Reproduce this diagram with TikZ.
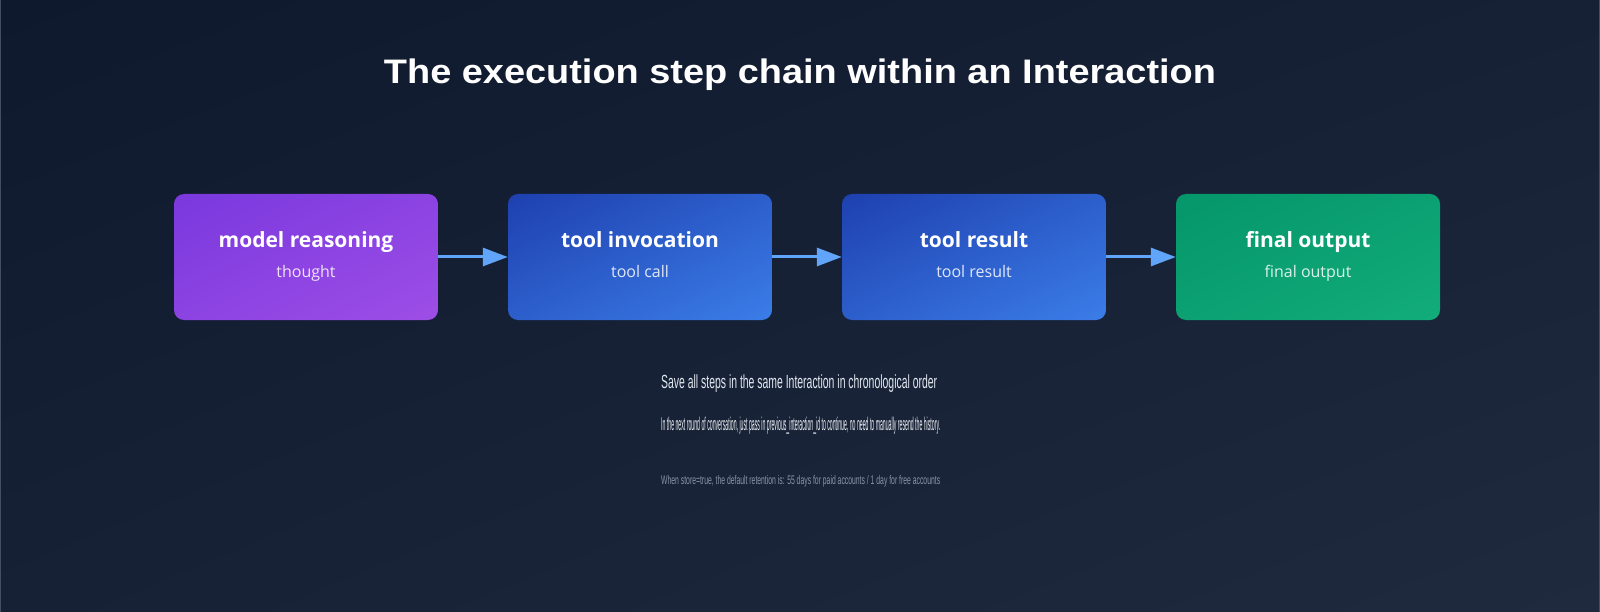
\documentclass[tikz,border=0pt]{standalone}
\usepackage{fontspec}
\setmainfont{Liberation Sans}
\newfontfamily\notosans{Open Sans}
\usetikzlibrary{arrows.meta,shadings}
\definecolor{bgUL}{HTML}{0F192E}
\definecolor{bgLR}{HTML}{1F2A3E}
\definecolor{bgM}{HTML}{172136}
\definecolor{purA}{HTML}{7A38DE}
\definecolor{purB}{HTML}{9D4EE6}
\definecolor{bluA}{HTML}{1E40AF}
\definecolor{bluB}{HTML}{3B7DE8}
\definecolor{grnA}{HTML}{059669}
\definecolor{grnB}{HTML}{12AC7A}
\definecolor{arrowc}{HTML}{60A5FA}
\definecolor{edgec}{HTML}{454D5E}
\definecolor{noteA}{HTML}{E2E8F0}
\definecolor{noteB}{HTML}{EEF2F6}
\definecolor{noteC}{HTML}{8A94A6}
\tikzset{
  stepbox/.style 2 args={minimum width=264pt, minimum height=126pt, rounded corners=10pt,
    inner sep=0pt, shade, shading=bilinear interpolation,
    upper left=#1, lower right=#2, upper right=#1!50!#2, lower left=#1!50!#2},
  ttl/.style={anchor=base, text=white, font=\notosans\bfseries\fontsize{21}{25}\selectfont, inner sep=0pt},
  sub/.style={anchor=base, text=white, text opacity=0.85, font=\notosans\fontsize{16}{20}\selectfont, inner sep=0pt},
  arr/.style={draw=arrowc, line width=3pt, -{Triangle[length=25pt, width=18pt]}},
  note/.style={anchor=base west, inner sep=0pt},
}
\begin{document}
\begin{tikzpicture}[x=1pt,y=-1pt]
\useasboundingbox (0,0) rectangle (1600,612);
\shade[shading=bilinear interpolation, upper left=bgUL, lower right=bgLR, upper right=bgM, lower left=bgM] (0,0) rectangle (1600,612);
\draw[edgec, line width=1.2pt] (0.6,0) -- (0.6,612);
\draw[edgec, line width=1.2pt] (1599.4,0) -- (1599.4,612);

\node[anchor=base, text=white, inner sep=0pt] (title) at (800,84)
  {\resizebox{832pt}{\height}{\fontsize{34}{40}\selectfont\bfseries The execution step chain within an Interaction}};

\node[stepbox={purA}{purB}] (b1) at (306,257) {};
\node[stepbox={bluA}{bluB}] (b2) at (640,257) {};
\node[stepbox={bluA}{bluB}] (b3) at (974,257) {};
\node[stepbox={grnA}{grnB}] (b4) at (1308,257) {};

\node[ttl] (t1) at (306,248) {model reasoning};
\node[sub] (s1) at (306,277) {thought};
\node[ttl] (t2) at (640,248) {tool invocation};
\node[sub] (s2) at (640,277) {tool call};
\node[ttl] (t3) at (974,248) {tool result};
\node[sub] (s3) at (974,277) {tool result};
\node[ttl] (t4) at (1308,248) {final output};
\node[sub] (s4) at (1308,277) {final output};

\draw[arr] (b1.east) -- (b2.west);
\draw[arr] (b2.east) -- (b3.west);
\draw[arr] (b3.east) -- (b4.west);

\node[note, text=noteA] (n1) at (661,388)
  {\resizebox{276pt}{\height}{\fontsize{19}{22}\selectfont Save all steps in the same Interaction in chronological order}};
\node[note, text=noteB] (n2) at (661,430)
  {\resizebox{279pt}{\height}{\fontsize{18.5}{22}\selectfont In the next round of conversation, just pass in previous\_interaction\_id to continue, no need to manually resend the history.}};
\node[note, text=noteC] (n3) at (661,484)
  {\resizebox{279pt}{\height}{\fontsize{12.5}{15}\selectfont When store=true, the default retention is: 55 days for paid accounts / 1 day for free accounts}};
\end{tikzpicture}
\end{document}
